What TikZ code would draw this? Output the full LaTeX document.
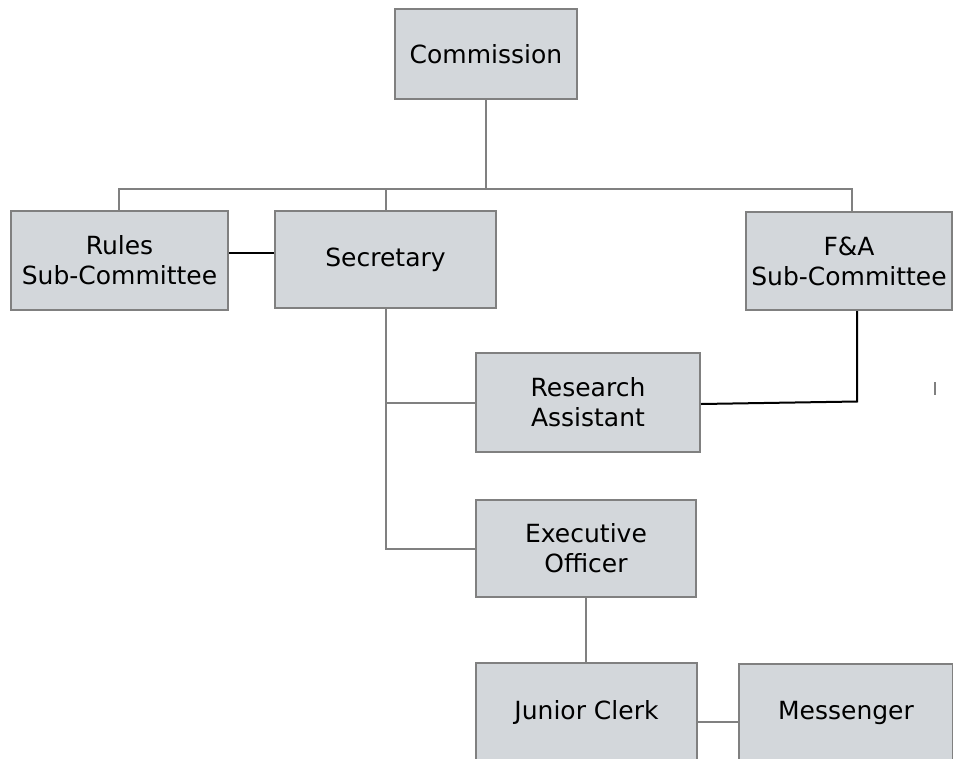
\documentclass[tikz,border=0pt]{standalone}
\usepackage{fontspec}
\setmainfont{DejaVu Sans}
\begin{document}
\begin{tikzpicture}[x=1pt,y=-1pt,
  box/.style={draw=boxline, fill=boxfill, line width=2pt, inner sep=0pt, align=center,
    font=\fontsize{25}{30}\selectfont},
  conn/.style={draw=connline, line width=2pt},
  blk/.style={draw=black, line width=2pt}]
\definecolor{boxfill}{HTML}{D3D7DB}
\definecolor{boxline}{HTML}{808080}
\definecolor{connline}{HTML}{808080}
\useasboundingbox (0,0) rectangle (953,758);
\fill[white] (0,0) rectangle (953,758);
\node[box, minimum width=182pt, minimum height=90pt] (comm) at (486,54) {Commission};
\node[box, minimum width=217pt, minimum height=99pt] (rules) at (119.5,260.5) {Rules\\Sub-Committee};
\node[box, minimum width=221pt, minimum height=97pt] (sec) at (385.5,259.5) {Secretary};
\node[box, minimum width=206pt, minimum height=98pt] (fa) at (849,261) {F\&A\\Sub-Committee};
\node[box, minimum width=224pt, minimum height=99pt] (ra) at (588,402.5) {Research\\Assistant};
\node[box, minimum width=220pt, minimum height=97pt] (exec) at (586,548.5) {Executive\\Officer};
\node[box, minimum width=221pt, minimum height=98pt] (jc) at (586.5,712) {Junior Clerk};
\node[box, minimum width=214pt, minimum height=98pt] (mess) at (846,713) {Messenger};
\coordinate (bus) at (486,188.5);
\coordinate (fabend) at (857,401.5);
\coordinate (markA) at (935,382);
\coordinate (markB) at (935,395);
% connectors
\draw[conn] (comm.south) -- (bus);
\draw[conn] ([xshift=-0.5pt]rules.north) |- (bus);
\draw[conn] (bus) -| ([xshift=3pt]fa.north);
\draw[conn] (sec.north) -- (sec.north |- bus);
\draw[blk] (rules.east |- 0,253) -- (sec.west |- 0,253);
\draw[conn] (sec.south) |- (exec.west);
\draw[conn] (sec.south |- ra.west) -- (ra.west);
\draw[blk] (fa.south -| fabend) -- (fabend) -- (ra.east |- 0,404);
\draw[conn] (exec.south) -- (exec.south |- jc.north);
\draw[conn] (jc.east |- 0,722) -- (mess.west |- 0,722);
\draw[conn, line width=1.5pt] (markA) -- (markB);
\end{tikzpicture}
\end{document}
